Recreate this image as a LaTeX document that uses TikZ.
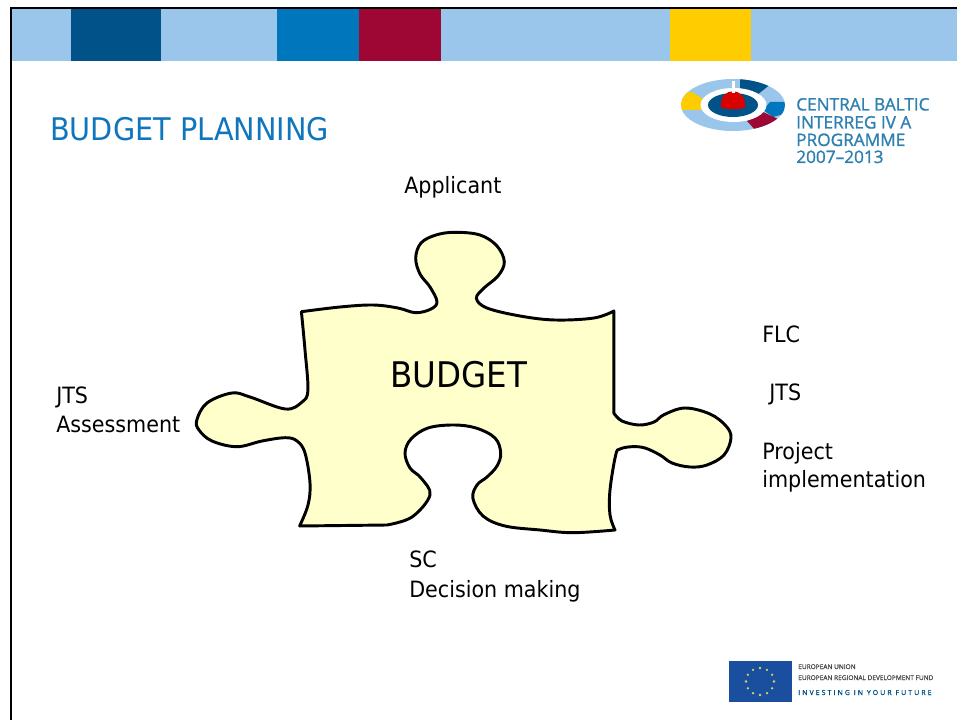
\documentclass[tikz,border=0pt]{standalone}
\usepackage{fontspec}
\setmainfont{DejaVu Sans}[FakeStretch=0.92]
\newfontfamily\logofont{Open Sans}[FakeBold=1.2]
\definecolor{barlight}{HTML}{99C6EA}
\definecolor{bardark}{HTML}{005288}
\definecolor{barmid}{HTML}{0077BC}
\definecolor{barred}{HTML}{9E0634}
\definecolor{baryellow}{HTML}{FFCC00}
\definecolor{titleblue}{HTML}{0F75BC}
\definecolor{logoblue}{HTML}{2F80B0}
\definecolor{piecefill}{HTML}{FFFFCC}
\definecolor{euflag}{HTML}{1A4E9E}
\definecolor{eustar}{HTML}{D8D860}
\tikzset{
  lab/.style={anchor=base west,inner sep=0pt,font=\fontsize{16.85pt}{20pt}\selectfont,text=black},
  logotxt/.style={anchor=base west,inner sep=0pt,font=\logofont\fontsize{12.9pt}{14pt}\selectfont,text=logoblue},
  eutxt/.style={anchor=base west,inner sep=0pt,font=\logofont\fontsize{4.9pt}{5pt}\selectfont,text=black!70},
}
\begin{document}
\begin{tikzpicture}[x=0.75pt,y=-0.75pt]
\useasboundingbox (0,0) rectangle (957,720);
% colour bars
\fill[barlight] (12,9) rectangle (71,61);
\fill[bardark] (71,9) rectangle (161,61);
\fill[barlight] (161,9) rectangle (277,61);
\fill[barmid] (277,9) rectangle (359,61);
\fill[barred] (359,9) rectangle (441,61);
\fill[barlight] (441,9) rectangle (670,61);
\fill[baryellow] (670,9) rectangle (751,61);
\fill[barlight] (751,9) rectangle (957,61);
% frame
\fill[black] (10,7) rectangle (957,9.5);
\fill[black] (10,7) rectangle (12,720);
% title
\node[anchor=base west,inner sep=0pt,font=\fontsize{23.4pt}{26pt}\selectfont,text=titleblue] (title) at (50,141) {BUDGET PLANNING};
% puzzle piece
\draw[fill=piecefill,line width=2.2pt,line join=round]
  (301.4,311.7)
  -- plot[smooth,tension=0.6] coordinates {(301.4,311.7) (340,307) (372.9,305) (397.9,308) (415.7,312.7) (431,309) (437,301.7) (430,287) (420,274) (415.7,258) (421,243) (436,235) (455,232.3) (480,235) (497,246) (504.3,262) (498,276) (484,288) (476.4,298.3) (487,308) (520,316) (555,320) (594,318) (613.9,311)}
  -- (613.9,413.3)
  -- plot[smooth,tension=0.6] coordinates {(613.9,413.3) (622,421) (639,425) (654,422) (664,414.7) (685,408) (710,414) (726,426) (731,438) (724,455) (707,465) (690,467) (672,463) (660,455) (645,448) (632,446.7) (620,449) (615.7,455) (610,490) (610,515) (615,530)}
  -- plot[smooth,tension=0.6] coordinates {(615,530) (572.9,532.7) (540,530) (505,526) (483,516) (472.9,498.3) (477,485) (487,477) (497,466) (500.7,453) (495,438) (476,428) (453.2,425) (428,428) (411,439) (405,453) (410,468) (421,478) (430,495) (412,517) (387,525)}
  -- (299.6,526)
  -- plot[smooth,tension=0.6] coordinates {(299.6,526) (308,505) (310,483) (305,453) (297,441) (285.4,437.7) (262,441) (237,446.7) (212,441) (199,430) (196.8,420) (207,403) (231.8,393) (250,397) (285.4,409) (302,402) (307.9,390) (305,350) (301.4,311.7)}
  -- cycle;
\node[anchor=base west,inner sep=0pt,font=\fontsize{26.5pt}{30pt}\selectfont] (budget) at (390,387.5) {BUDGET};
% labels
\node[lab] (applicant) at (404,193.5) {Applicant};
\node[lab] (jtsleft) at (56,403) {JTS};
\node[lab] (assess) at (56,432.5) {Assessment};
\node[lab] (flc) at (762,343) {FLC};
\node[lab] (jtsright) at (769,400.5) {JTS};
\node[lab] (project) at (762,459) {Project};
\node[lab] (impl) at (762,487) {implementation};
\node[lab] (sc) at (409,567.5) {SC};
\node[lab] (decision) at (409,597) {Decision making};
% programme logo
\begin{scope}
  \clip (733,105) ellipse [x radius=52,y radius=26];
  \fill[barlight] (680,75) rectangle (790,135);
  \fill[baryellow] (680,93) -- (692,92) -- (703,99) -- (701,110) -- (680,110) -- cycle;
  \fill[bardark] (740,78) -- (772,83) -- (757,95) -- (740,88) -- cycle;
  \fill[barmid] (770,102) -- (787,102) -- (787,113) -- (773,117) -- (763,110) -- cycle;
  \fill[barred] (747,121) -- (763,112) -- (778,119) -- (757,132) -- cycle;
\end{scope}
\fill[white] (733.5,105) ellipse [x radius=33,y radius=17];
\fill[bardark] (733,105) ellipse [x radius=25,y radius=12];
\fill[red!85!black] (721,107) .. controls (719,86) and (747,86) .. (745,107) .. controls (743,110) and (723,110) .. (721,107) -- cycle;
\fill[white] (732,81) rectangle (734.5,93);
\node[logotxt] (l1) at (796,110.5) {CENTRAL BALTIC};
\node[logotxt] (l2) at (796,128.5) {INTERREG IV A};
\node[logotxt] (l3) at (796,146) {PROGRAMME};
\node[logotxt] (l4) at (796,163) {2007–2013};
% EU flag
\fill[euflag] (729,660.7) rectangle (791.7,702.3);
\foreach \a in {0,30,...,330}
  \fill[eustar] ({760+14*cos(\a)},{681.5+13.5*sin(\a)}) circle (1.3);
\node[eutxt] (e1) at (798,669) {EUROPEAN UNION};
\node[eutxt] (e2) at (798,680) {EUROPEAN REGIONAL DEVELOPMENT FUND};
\node[anchor=base west,inner sep=0pt,font=\logofont\fontsize{5.2pt}{5pt}\selectfont,text=bardark] (e3) at (798,695) {\addfontfeature{LetterSpace=30}INVESTING IN YOUR FUTURE};
\end{tikzpicture}
\end{document}
